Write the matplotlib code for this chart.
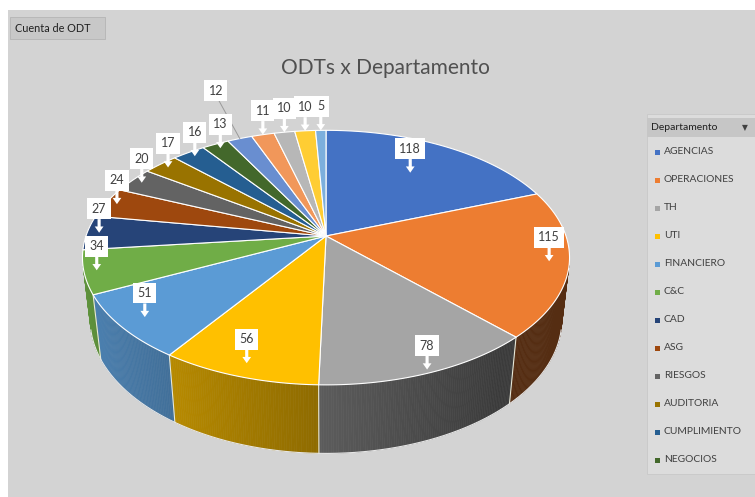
import numpy as np
import matplotlib
matplotlib.use("Agg")
import matplotlib.pyplot as plt
from matplotlib.patches import Polygon, Rectangle
from matplotlib.colors import to_rgb

plt.rcParams['font.family'] = ['Lato', 'DejaVu Sans']

# data (pie drawn clockwise from 12 o'clock)
values = [118, 115, 78, 56, 51, 34, 27, 24, 20, 17, 16, 13, 12, 11, 10, 10, 5]
categories = ['AGENCIAS', 'OPERACIONES', 'TH', 'UTI', 'FINANCIERO', 'C&C',
              'CAD', 'ASG', 'RIESGOS', 'AUDITORIA', 'CUMPLIMIENTO', 'NEGOCIOS']
colors = ['#4472C4', '#ED7D31', '#A5A5A5', '#FFC000', '#5B9BD5', '#70AD47',
          '#264478', '#9E480E', '#636363', '#997300', '#255E91', '#43682B',
          '#698ED0', '#F1975A', '#B7B7B7', '#FFCD33', '#7CAFDD']
title = 'ODTs x Departamento'

# 3d view
cx, cy, S = 326, 236, 240
alpha = np.radians(31)
ca, sa = np.cos(alpha), np.sin(alpha)
D = 5.05
H = 0.31


def proj(t, r=1.0, y=0.0):
    X = r * np.sin(t)
    Z = -r * np.cos(t)
    zc = Z * ca + y * sa
    yc = y * ca - Z * sa
    f = D / (D - zc)
    return cx + S * X * f, cy - S * yc * f


def shade(c, k):
    return tuple(min(1, v * k) for v in to_rgb(c))


fig = plt.figure(figsize=(7.55, 4.97), dpi=100)
fig.patch.set_facecolor('white')
ax = fig.add_axes([0, 0, 1, 1])
ax.set_xlim(0, 755)
ax.set_ylim(497, 0)
ax.axis('off')

ax.add_patch(Rectangle((8, 10), 760, 500, fc='#d3d3d3', ec='none', zorder=0))

total = sum(values)
bounds = np.radians(np.concatenate([[0], np.cumsum(values)]) / total * 360)

# side walls (only where facing the camera)
zmin = 1 / (D * ca)
for i, v in enumerate(values):
    t0, t1 = bounds[i], bounds[i + 1]
    ts = np.linspace(t0, t1, max(3, int(np.degrees(t1 - t0) * 2)))
    for a, b in zip(ts[:-1], ts[1:]):
        m = (a + b) / 2
        if -np.cos(m) < zmin:
            continue
        k = max(0.36, 0.55 - 0.3 * np.sin(m))
        pts = [proj(a), proj(b), proj(b, y=-H), proj(a, y=-H)]
        ax.add_patch(Polygon(pts, closed=True, fc=shade(colors[i], k),
                             ec=shade(colors[i], k), lw=0.4, zorder=2))
    if -np.cos(t0) > zmin and i > 0:
        x0, y0 = proj(t0)
        x1, y1 = proj(t0, y=-H)
        ax.plot([x0, x1], [y0, y1], color='#e8e8d8', lw=0.8, zorder=3)

# outline of the bottom rim
tt = np.linspace(0, 2 * np.pi, 400)
tt = tt[-np.cos(tt) > zmin]
bx, by = proj(tt, y=-H)
ax.plot(bx, by, color='#e6e6e6', lw=0.8, zorder=3)

# top faces
for i, v in enumerate(values):
    t0, t1 = bounds[i], bounds[i + 1]
    ts = np.linspace(t0, t1, max(3, int(np.degrees(t1 - t0) * 2)))
    xs, ys = proj(ts)
    pts = [(cx, cy)] + list(zip(xs, ys))
    ax.add_patch(Polygon(pts, closed=True, fc=colors[i], ec='white',
                         lw=0.8, joinstyle='round', zorder=4))

# data labels
label_r = [0.68, 0.92, 0.98, 0.92, 0.9, 0.95, 0.95, 0.95, 0.95, 0.95,
           0.95, 0.95, 1.0, 1.0, 1.0, 1.0, 1.0]
for i, v in enumerate(values):
    m = (bounds[i] + bounds[i + 1]) / 2
    tx, ty = proj(m, r=label_r[i])
    lift = 48 if v == 12 else 24
    if v == 12:
        ax.plot([tx - 22, tx], [ty - lift + 8, ty], color='#9a9a9a', lw=0.7, zorder=5)
        ax.text(tx - 24, ty - lift, str(v), ha='center', va='center', fontsize=9,
                color='#404040', zorder=7,
                bbox=dict(boxstyle='square,pad=0.35', fc='white', ec='none'))
        continue
    ax.annotate(str(v), xy=(tx, ty), xytext=(tx, ty - lift), ha='center',
                va='center', fontsize=9, color='#404040', zorder=7,
                bbox=dict(boxstyle='square,pad=0.35', fc='white', ec='none'),
                arrowprops=dict(arrowstyle='simple,head_width=0.7,head_length=0.5,tail_width=0.25',
                                fc='white', ec='none', shrinkA=0, shrinkB=0))

# title and pivot button
ax.text(385, 68, title, ha='center', va='center', fontsize=15, color='#505050')
ax.add_patch(Rectangle((10, 17), 95, 22, fc='#c8c8c8', ec='#b4b4b4', lw=0.6, zorder=1))
ax.text(15, 28, 'Cuenta de ODT', ha='left', va='center', fontsize=7.8, color='#202020')

# legend panel
ax.add_patch(Rectangle((647, 114), 110, 360, fc='#dcdcdc', ec='#c8c8c8', lw=0.6, zorder=1))
ax.add_patch(Rectangle((647, 118), 110, 19, fc='#c6c6c6', ec='none', zorder=1))
ax.text(651, 128, 'Departamento', ha='left', va='center', fontsize=7.5, color='#202020')
ax.text(745, 128, '\u25bc', ha='center', va='center', fontsize=5.5, color='#404040',
        family=['DejaVu Sans'])
for j, name in enumerate(categories):
    yy = 152 + j * 28
    ax.add_patch(Rectangle((655, yy - 2.5), 5, 5, fc=colors[j], ec='none', zorder=2))
    ax.text(664, yy, name, ha='left', va='center', fontsize=7.4, color='#404040')

fig.savefig('out.png', dpi=100)
